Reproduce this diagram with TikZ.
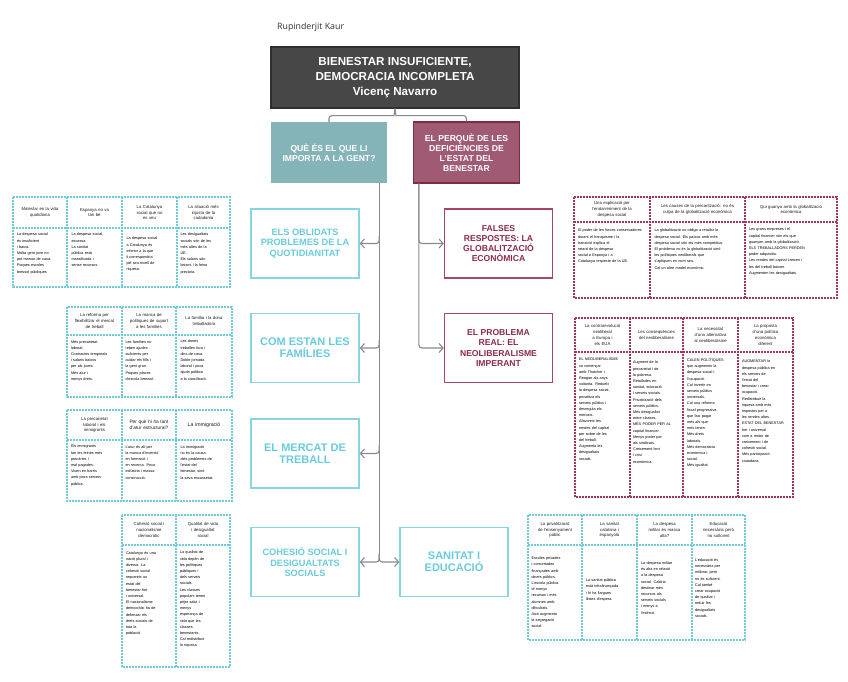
\documentclass[tikz,border=0pt]{standalone}
\usepackage{fontspec}
\setmainfont{Liberation Sans}
\newfontfamily\authorfont{Open Sans}
\usetikzlibrary{arrows.meta,calc}
\definecolor{titlefill}{HTML}{474747}
\definecolor{titledraw}{HTML}{2E2E2E}
\definecolor{tealfill}{HTML}{84B4B7}
\definecolor{marfill}{HTML}{A05A74}
\definecolor{mardraw}{HTML}{7E2A4A}
\definecolor{bcyan}{HTML}{86D5E1}
\definecolor{tcyan}{HTML}{69CBDC}
\definecolor{bmar}{HTML}{A8466A}
\definecolor{tmar}{HTML}{8D2A4C}
\definecolor{cgray}{HTML}{8A8A8A}
\definecolor{dcyan}{HTML}{6FCBD9}
\definecolor{dmar}{HTML}{A3345E}
\newcommand\mytab[7]{%
  \draw[#1] (#2,#3) rectangle (#4,#5);
  \draw[#1] (#2,#6) -- (#4,#6);
  \foreach \xx in {#7} {\draw[#1] (\xx,#3) -- (\xx,#5);}%
}
\tikzset{
  conn/.style={draw=cgray, line width=1.1pt},
  arr/.style={conn, -{Straight Barb[length=4pt,width=9pt]}, rounded corners=3pt},
  tc/.style={draw=dcyan, line width=1.1pt, dash pattern=on 2pt off 1pt},
  tm/.style={draw=dmar, line width=1.1pt, dash pattern=on 2pt off 1pt},
  hd/.style={font=\fontsize{4.3}{5.8}\selectfont, align=center, inner sep=0pt, text=black!90},
  bd/.style={font=\fontsize{3.8}{6.2}\selectfont, align=left, inner sep=0pt, text=black, anchor=north},
  cbox/.style={draw=bcyan, fill=white, line width=1.4pt, text=tcyan, align=center,
    minimum width=108pt, minimum height=69pt, inner sep=2pt},
  mbox/.style={draw=bmar, fill=white, line width=1.4pt, text=tmar, align=center,
    minimum width=108pt, minimum height=69pt, inner sep=2pt},
  fs/.style={font=\bfseries\fontsize{9.2}{10.3}\selectfont},
  fl/.style={font=\bfseries\fontsize{11}{12}\selectfont},
  fm/.style={font=\bfseries\fontsize{8.6}{10.1}\selectfont},
}
\begin{document}
\begin{tikzpicture}[x=1pt,y=-1pt]
\useasboundingbox (0,0) rectangle (848,682);
\fill[white] (0,0) rectangle (848,682);

% author
\node[font=\authorfont\fontsize{8.8}{10}\selectfont, text=black!80, anchor=west, inner sep=0pt] (au) at (277,27) {Rupinderjit Kaur};

% title
\node[draw=titledraw, fill=titlefill, line width=1.2pt, text=white, align=center,
  minimum width=248pt, minimum height=61pt, font=\bfseries\fontsize{11.6}{15}\selectfont] (t) at (395,77.5)
  {BIENESTAR INSUFICIENTE,\\DEMOCRACIA INCOMPLETA\\Vicenç Navarro};

% categories
\node[fill=tealfill, text=white, align=center, minimum width=116pt, minimum height=61pt,
  font=\bfseries\fontsize{8.6}{10}\selectfont] (q) at (329,152.5) {QUÈ ÉS EL QUE LI\\IMPORTA A LA GENT?};
\node[fill=marfill, draw=mardraw, line width=1.2pt, text=white, align=center, minimum width=106pt, minimum height=61pt,
  font=\bfseries\fontsize{8.6}{10}\selectfont] (p) at (466.5,152.5) {EL PERQUÈ DE LES\\DEFICIÈNCIES DE\\L'ESTAT DEL\\BENESTAR};

% brace
\draw[conn, rounded corners=3pt] (q.north) |- ($(t.south)+(-4,7)$) .. controls ($(t.south)+(-1,7)$) .. (t.south);
\draw[conn, rounded corners=3pt] (p.north) |- ($(t.south)+(4,7)$) .. controls ($(t.south)+(1,7)$) .. (t.south);

% left boxes
\node[cbox, fs] (b1) at (305,243.5) {ELS OBLIDATS\\PROBLEMES DE LA\\QUOTIDIANITAT};
\node[cbox, fl] (b2) at (305,348) {COM ESTAN LES\\FAMÍLIES};
\node[cbox, fl] (b3) at (305,453.5) {EL MERCAT DE\\TREBALL};
\node[cbox, fs] (b4) at (305,562) {COHESIÓ SOCIAL I\\DESIGUALTATS\\SOCIALS};
\node[cbox, fl] (s) at (454,562) {SANITAT I\\EDUCACIÓ};

% right boxes
\node[mbox, fm] (f) at (498.5,243.5) {FALSES\\RESPOSTES: LA\\GLOBALITZACIÓ\\ECONÒMICA};
\node[mbox, fm] (pr) at (498.5,348) {EL PROBLEMA\\REAL: EL\\NEOLIBERALISME\\IMPERANT};

% left trunk
\coordinate (lt) at ($(q.south east)+(-8,0)$);
\coordinate (lb) at ($(lt |- b4.east)+(0,-8)$);
\draw[conn] (lt) -- (lb);
\draw[arr] ($(lt |- b1.east)+(0,-8)$) |- (b1.east);
\draw[arr] ($(lt |- b2.east)+(0,-8)$) |- (b2.east);
\draw[arr] ($(lt |- b3.east)+(0,-8)$) |- (b3.east);
\draw[arr] (lb) |- (b4.east);
\draw[arr] (lb) |- (s.west);

% right trunk
\coordinate (rt) at ($(p.south west)+(6,0)$);
\draw[arr] (rt) |- (f.west);
\draw[arr] (rt) |- (pr.west);

% ===== Table A =====
\mytab{tc}{13}{197}{230}{287}{228}{67,122,177}
\node[hd, text width=48pt] (ah1) at (40,212.5) {Malestar en la vida\\quotidiana};
\node[hd, text width=48pt] (ah2) at (94.5,212.5) {Espanya no va\\tan bé};
\node[hd, text width=48pt] (ah3) at (149.5,212.5) {La Catalunya\\social que no\\es veu};
\node[hd, text width=48pt] (ah4) at (203.5,212.5) {La situació més\\injusta de la\\ciutadania};
\node[bd, text width=46pt] (ab1) at (40,233) {La despesa social\\és insuficient\\i baixa.\\Molta gent jove no\\pot marxar de casa.\\Poques escoles\\bressol públiques};
\node[bd, text width=46pt] (ab2) at (94.5,233) {La despesa social,\\escassa\\La sanitat\\pública està\\massificada i\\sense recursos};
\node[bd, text width=46pt] (ab3) at (149.5,237) {La despesa social\\a Catalunya és\\inferior a la que\\li correspondria\\pel seu nivell de\\riquesa.};
\node[bd, text width=46pt] (ab4) at (203.5,233) {Les desigualtats\\socials són de les\\més altes de la\\UE.\\Els salaris són\\baixos i la feina\\precària.};

% ===== Table B =====
\mytab{tc}{67}{307}{232}{397}{335}{122,176}
\node[hd, text width=50pt] (bh1) at (94.5,321) {La reforma per\\flexibilitzar el mercat\\de treball};
\node[hd, text width=50pt] (bh2) at (149,321) {La manca de\\polítiques de suport\\a les famílies};
\node[hd, text width=50pt] (bh3) at (204,321) {La família i la dona\\treballadora};
\node[bd, text width=47pt] (bb1) at (94.5,340) {Més precarietat\\laboral.\\Contractes temporals\\i salaris baixos\\per als joves.\\Més atur i\\menys drets.};
\node[bd, text width=47pt] (bb2) at (149,340) {Les famílies no\\reben ajudes\\suficients per\\cuidar els fills i\\la gent gran.\\Poques places\\d'escola bressol.};
\node[bd, text width=47pt] (bb3) at (204,340) {Les dones\\treballen fora i\\dins de casa.\\Doble jornada\\laboral i poca\\ajuda pública\\a la conciliació.};

% ===== Table C =====
\mytab{tc}{67}{410}{232}{501}{440}{122,176}
\node[hd, text width=50pt] (ch1) at (94.5,425) {La precarietat\\laboral i els\\immigrants};
\node[hd, text width=50pt, font=\fontsize{4.8}{6.2}\selectfont] (ch2) at (149,425) {Per què hi ha tant\\d'atur estructural?};
\node[hd, text width=50pt, font=\fontsize{5.2}{6.2}\selectfont] (ch3) at (204,425) {La immigració};
\node[bd, text width=47pt] (cb1) at (94.5,445) {Els immigrants\\fan les feines més\\precàries i\\mal pagades.\\Viuen en barris\\amb pocs serveis\\públics.};
\node[bd, text width=47pt] (cb2) at (149,445) {L'atur és alt per\\la manca d'inversió\\en formació i\\en recerca. Poca\\indústria i massa\\construcció.};
\node[bd, text width=47pt] (cb3) at (204,445) {La immigració\\no és la causa\\dels problemes de\\l'estat del\\benestar, sinó\\la seva escassetat.};

% ===== Table D =====
\mytab{tc}{122}{515}{230}{667}{545}{176}
\node[hd, text width=50pt] (dh1) at (149,530) {Cohesió social i\\nacionalisme\\democràtic};
\node[hd, text width=50pt] (dh2) at (203,530) {Qualitat de vida\\i desigualtat\\social};
\node[bd, text width=46pt] (db1) at (149,551) {Catalunya és una\\nació plural i\\diversa. La\\cohesió social\\requereix un\\estat del\\benestar fort\\i universal.\\El nacionalisme\\democràtic ha de\\defensar els\\drets socials de\\tota la\\població.};
\node[bd, text width=46pt] (db2) at (203,551) {La qualitat de\\vida depèn de\\les polítiques\\públiques i\\dels serveis\\socials.\\Les classes\\populars tenen\\pitjor salut i\\menys\\esperança de\\vida que les\\classes\\benestants.\\Cal redistribuir\\la riquesa.};

% ===== Table E =====
\mytab{tm}{574}{197}{837}{298}{222}{650,745}
\node[hd, text width=70pt] (eh1) at (612,209.5) {Una explicació per\\l'endarreriment de la\\despesa social};
\node[hd, text width=90pt] (eh2) at (697.5,209.5) {Les causes de la precarització: no és\\culpa de la globalització econòmica};
\node[hd, text width=86pt] (eh3) at (791,209.5) {Qui guanya amb la globalització\\econòmica};
\node[bd, text width=68pt] (eb1) at (612,229) {El poder de les forces conservadores\\durant el franquisme i la\\transició explica el\\retard de la despesa\\social a Espanya i a\\Catalunya respecte de la UE.};
\node[bd, text width=86pt] (eb2) at (697.5,229) {La globalització no obliga a retallar la\\despesa social. Els països amb més\\despesa social són els més competitius.\\El problema no és la globalització sinó\\les polítiques neoliberals que\\s'apliquen en nom seu.\\Cal un altre model econòmic.};
\node[bd, text width=84pt] (eb3) at (791,228) {Les grans empreses i el\\capital financer són els que\\guanyen amb la globalització.\\ELS TREBALLADORS PERDEN\\poder adquisitiu.\\Les rendes del capital creixen i\\les del treball baixen.\\Augmenten les desigualtats.};

% ===== Table F =====
\mytab{tm}{575}{318}{793}{497}{352}{630,683,738}
\node[hd, text width=50pt] (fh1) at (602.5,335) {La contrarevolució\\neoliberal\\a Europa i\\els EUA};
\node[hd, text width=50pt] (fh2) at (656.5,335) {Les conseqüències\\del neoliberalisme};
\node[hd, text width=50pt] (fh3) at (710.5,335) {La necessitat\\d'una alternativa\\al neoliberalisme};
\node[hd, text width=50pt] (fh4) at (765.5,335) {La proposta\\d'una política\\econòmica\\diferent};
\node[bd, text width=47pt] (fb1) at (602.5,358) {EL NEOLIBERALISME\\va començar\\amb Thatcher i\\Reagan als anys\\vuitanta. Redueix\\la despesa social,\\privatitza els\\serveis públics i\\desregula els\\mercats.\\Afavoreix les\\rendes del capital\\per sobre de les\\del treball.\\Augmenta les\\desigualtats\\socials.};
\node[bd, text width=47pt] (fb2) at (656.5,361) {Augment de la\\precarietat i de\\la pobresa.\\Retallades en\\sanitat, educació\\i serveis socials.\\Privatització dels\\serveis públics.\\Més desigualtat\\entre classes.\\MÉS PODER PER AL\\capital financer.\\Menys poder per\\als sindicats.\\Creixement lent\\i crisi\\econòmica.};
\node[bd, text width=47pt] (fb3) at (710.5,358) {CALEN POLÍTIQUES\\que augmentin la\\despesa social i\\l'ocupació.\\Cal invertir en\\serveis públics\\universals.\\Cal una reforma\\fiscal progressiva\\que faci pagar\\més als que\\més tenen.\\Més drets\\laborals.\\Més democràcia\\econòmica i\\social.\\Més igualtat.};
\node[bd, text width=47pt] (fb4) at (765.5,360) {AUGMENTAR la\\despesa pública en\\els serveis de\\l'estat del\\benestar i crear\\ocupació.\\Redistribuir la\\riquesa amb més\\impostos per a\\les rendes altes.\\ESTAT DEL BENESTAR\\fort i universal\\com a motor de\\creixement i de\\cohesió social.\\Més participació\\ciutadana.};

% ===== Table G =====
\mytab{tc}{528}{515}{745}{640}{545}{582,637,692}
\node[hd, text width=50pt] (gh1) at (555,530) {La privatització\\de l'ensenyament\\públic};
\node[hd, text width=50pt] (gh2) at (609.5,530) {La sanitat\\catalana i\\espanyola};
\node[hd, text width=50pt] (gh3) at (664.5,530) {La despesa\\militar és massa\\alta?};
\node[hd, text width=50pt] (gh4) at (718.5,530) {Educació\\necessària però\\no suficient};
\node[bd, text width=47pt, anchor=center] (gb1) at (555,592.5) {Escoles privades\\i concertades\\finançades amb\\diners públics.\\L'escola pública\\té menys\\recursos i més\\alumnes amb\\dificultats.\\Això augmenta\\la segregació\\social.};
\node[bd, text width=47pt, anchor=center] (gb2) at (609.5,590) {La sanitat pública\\està infrafinançada\\i hi ha llargues\\llistes d'espera.};
\node[bd, text width=47pt, anchor=center] (gb3) at (664.5,588) {La despesa militar\\és alta en relació\\a la despesa\\social. Caldria\\destinar més\\recursos als\\serveis socials\\i menys a\\l'exèrcit.};
\node[bd, text width=47pt, anchor=center] (gb4) at (718.5,588) {L'educació és\\necessària per\\millorar, però\\no és suficient.\\Cal també\\crear ocupació\\de qualitat i\\reduir les\\desigualtats\\socials.};

\end{tikzpicture}
\end{document}
